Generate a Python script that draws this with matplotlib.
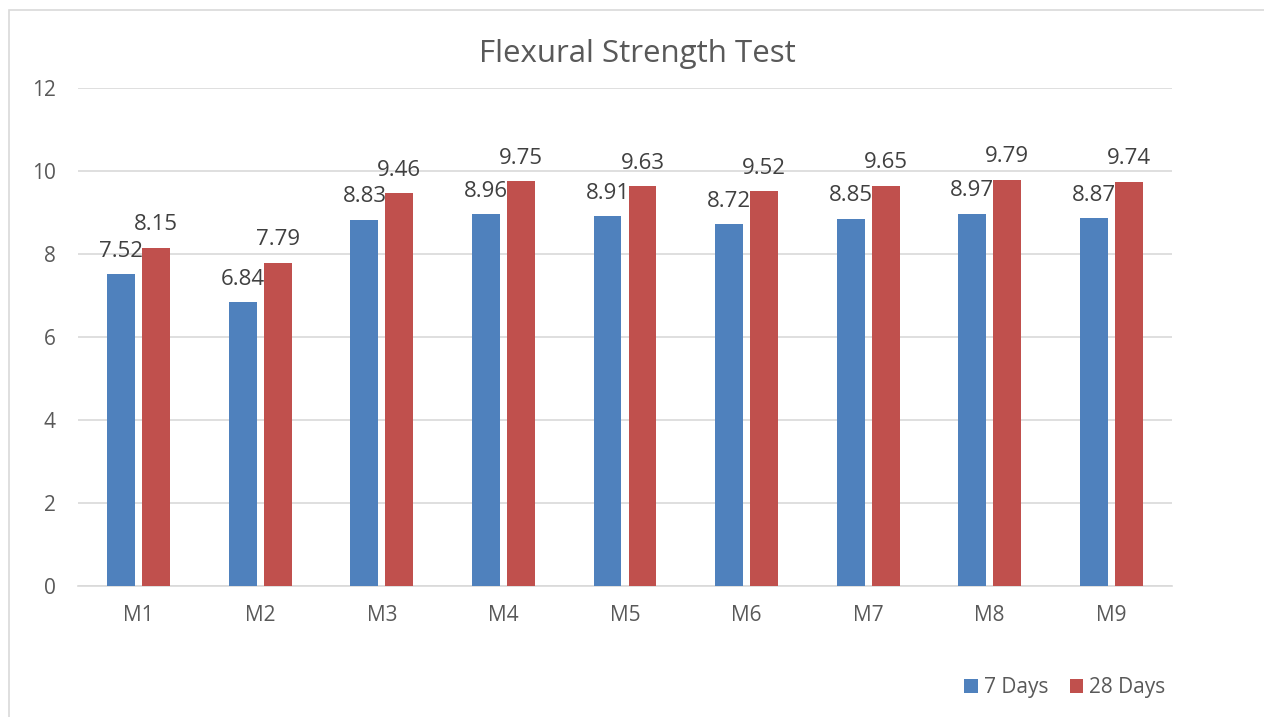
import matplotlib.pyplot as plt
import numpy as np
from matplotlib.patches import Rectangle

plt.rcParams['font.family'] = ['Open Sans', 'DejaVu Sans']

cats = ['M1', 'M2', 'M3', 'M4', 'M5', 'M6', 'M7', 'M8', 'M9']
days7 = [7.52, 6.84, 8.83, 8.96, 8.91, 8.72, 8.85, 8.97, 8.87]
days28 = [8.15, 7.79, 9.46, 9.75, 9.63, 9.52, 9.65, 9.79, 9.74]

blue = '#4F81BD'
red = '#C0504D'
grey = '#595959'

fig = plt.figure(figsize=(12.64, 7.17), dpi=100)
fig.patches.append(Rectangle((9/1264, -0.01), 1.1, 1 - 10/717 + 0.01, transform=fig.transFigure,
                             fill=False, edgecolor='#D9D9D9', linewidth=1.2))
ax = fig.add_axes([78/1264, 1 - 586/717, (1172-78)/1264, (586-88)/717])

x = np.arange(len(cats))
w = 0.23
off = 0.144
b1 = ax.bar(x - off, days7, w, color=blue, label='7 Days', zorder=3)
b2 = ax.bar(x + off, days28, w, color=red, label='28 Days', zorder=3)

# data labels sit centred over each bar
for xi, v in zip(x, days7):
    ax.annotate(f'{v:.2f}', (xi - off, v), xytext=(0, 12.5), textcoords='offset points',
                ha='center', va='baseline', fontsize=16, color='#404040')
for xi, v in zip(x, days28):
    ax.annotate(f'{v:.2f}', (xi + off, v), xytext=(0, 12.5), textcoords='offset points',
                ha='center', va='baseline', fontsize=16, color='#404040')

ax.set_xlim(-0.5, len(cats) - 0.5)
ax.set_ylim(0, 12)
ax.set_yticks(range(0, 13, 2))
ax.set_xticks(x)
ax.set_xticklabels(cats)
ax.yaxis.grid(True, color='#D9D9D9', linewidth=1.2, zorder=0)
for s in ['top', 'right', 'left']:
    ax.spines[s].set_visible(False)
ax.spines['bottom'].set_color('#D9D9D9')
ax.spines['bottom'].set_linewidth(1.2)
ax.tick_params(axis='both', length=0, labelsize=15, colors=grey)
ax.tick_params(axis='y', pad=16)
ax.tick_params(axis='x', pad=14)

fig.text(0.504, 1 - 54/717, 'Flexural Strength Test', ha='center', va='center',
         fontsize=22.5, color=grey)

fig.legend(handles=[b1, b2], loc='center', bbox_to_anchor=(1065/1264, 1 - 688/717), ncol=2,
           frameon=False, fontsize=15, labelcolor=grey, handlelength=0.65, handleheight=0.65,
           handletextpad=0.3, columnspacing=1.0)

fig.savefig('out.png', dpi=100)
